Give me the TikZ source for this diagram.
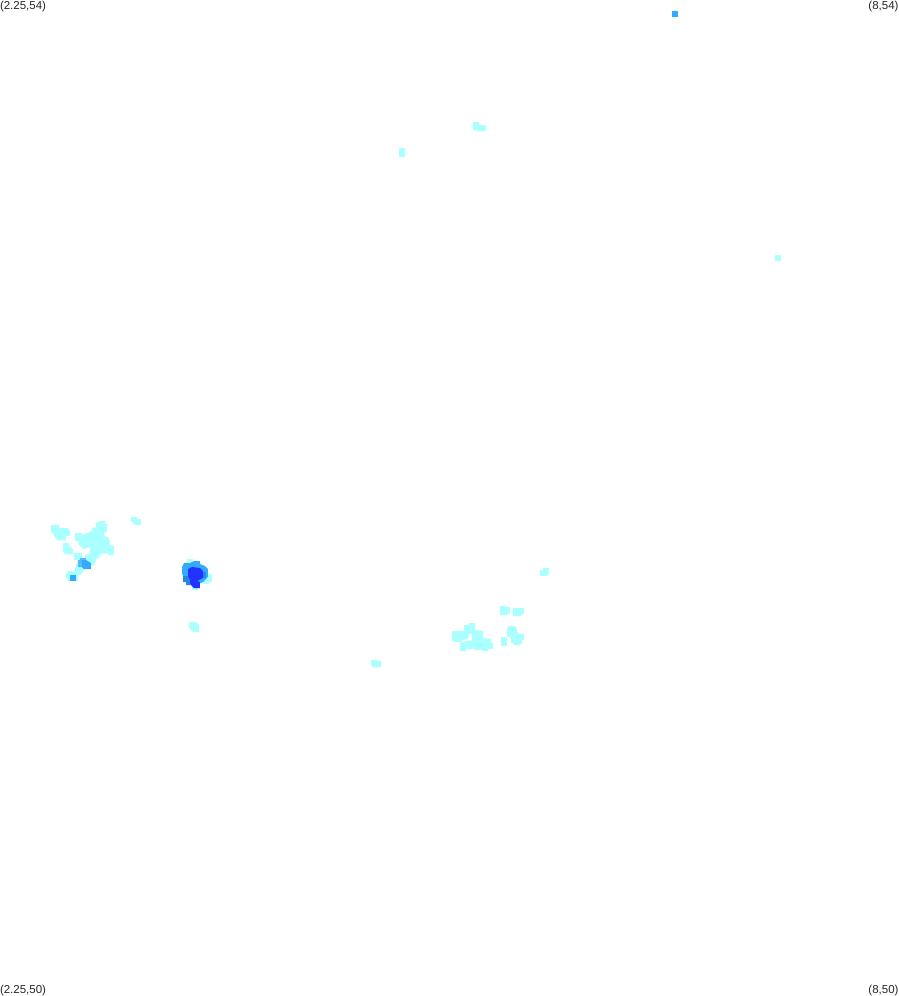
\documentclass[tikz,border=0pt]{standalone}
\usepackage{fontspec}
\setmainfont{Liberation Sans}
\definecolor{cellA}{HTML}{AAFFFF}
\definecolor{cellB}{HTML}{33AAFF}
\definecolor{cellBl}{HTML}{55BBFF}
\definecolor{cellC}{HTML}{2288DD}
\definecolor{cellD}{HTML}{2233FF}
\tikzset{
  cornerlabel/.style={inner sep=0pt,outer sep=0pt,font=\fontsize{11.5}{12}\selectfont,text=black!85},
  zoomA/.style={shift={(40pt,-505pt)},x=0.3333pt,y=-0.3333pt},
  zoomB/.style={shift={(170pt,-550pt)},x=0.3333pt,y=-0.3333pt},
  zoomC/.style={shift={(440pt,-560pt)},x=0.3333pt,y=-0.3333pt},
  zoomD/.style={shift={(390pt,-110pt)},x=0.3333pt,y=-0.3333pt}
}
\begin{document}
\begin{tikzpicture}[x=1pt,y=-1pt]
\useasboundingbox (0,0) rectangle (899,996);
\clip (0,0) rectangle (899,996);
\fill[white] (0,0) rectangle (899,996);
% cluster left
\begin{scope}[zoomA]
\fill[cellA] (33,60)--(57,60)--(57,69)--(84,69)--(90,75)--(90,93)--(78,93)--(78,105)--(51,105)--(45,96)--(39,84)--(33,84)--cycle;
\fill[cellA] (105,84)--(123,84)--(129,90)--(141,84)--(156,78)--(156,68)--(168,68)--(168,54)--(180,48)--(195,48)--(195,57)--(201,57)--(201,81)--(192,81)--(192,93)--(204,96)--(210,108)--(210,120)--(222,123)--(222,150)--(204,150)--(204,144)--(192,144)--(180,150)--(180,156)--(168,162)--(165,180)--(153,180)--(135,165)--(135,150)--(150,147)--(150,115)--(147,128)--(130,132)--(117,120)--(117,108)--(105,108)--cycle;
\fill[cellA] (69,114)--(87,114)--(87,123)--(99,132)--(99,147)--(75,147)--(69,138)--cycle;
\fill[cellA] (102,144)--(126,144)--(126,165)--(102,165)--cycle;
\fill[cellA] (108,177)--(132,177)--(132,198)--(120,210)--(108,210)--(105,195)--cycle;
\fill[cellA] (78,204)--(84,204)--(84,198)--(102,198)--(114,210)--(114,228)--(84,228)--(78,216)--cycle;
\fill[cellA] (273,36)--(291,36)--(291,42)--(303,42)--(303,60)--(282,60)--(279,51)--(273,51)--cycle;
\fill[cellBl] (114,165)--(120,165)--(120,159)--(138,159)--(138,186)--(114,186)--cycle;
\fill[cellB] (126,165)--(138,165)--(153,174)--(153,192)--(132,192)--(126,186)--cycle;
\fill[cellB] (90,210)--(108,210)--(108,228)--(90,228)--cycle;
\end{scope}
% dense cluster
\begin{scope}[zoomB]
\fill[cellA] (51,27)--(69,27)--(69,36)--(51,42)--cycle;
\fill[cellA] (108,72)--(126,72)--(126,93)--(114,102)--(100,102)--(100,90)--cycle;
\fill[cellA] (66,108)--(84,108)--(84,120)--(66,120)--cycle;
\fill[cellB] (36,51)--(42,39)--(60,39)--(72,33)--(90,33)--(90,42)--(105,48)--(114,57)--(114,80)--(100,96)--(90,100)--(60,100)--(39,78)--(36,69)--cycle;
\fill[cellC] (39,78)--(60,78)--(60,105)--(48,105)--(48,96)--(39,96)--cycle;
\fill[cellC] (90,66)--(108,66)--(108,84)--(90,84)--cycle;
\fill[cellD] (54,57)--(66,51)--(90,54)--(99,63)--(99,84)--(81,93)--(90,96)--(90,114)--(72,114)--(60,102)--(60,90)--(54,78)--cycle;
\fill[cellA] (57,216)--(78,216)--(87,225)--(87,246)--(69,246)--(57,234)--cycle;
\end{scope}
% right cluster
\begin{scope}[zoomC]
\fill[cellA] (300,30)--(309,30)--(309,24)--(327,24)--(327,39)--(321,48)--(300,48)--cycle;
\fill[cellA] (180,138)--(198,138)--(198,141)--(210,141)--(210,159)--(198,165)--(180,165)--cycle;
\fill[cellA] (219,144)--(252,144)--(252,159)--(243,168)--(222,168)--(219,165)--cycle;
\fill[cellA] (36,213)--(72,213)--(72,195)--(87,195)--(87,189)--(105,189)--(105,210)--(129,213)--(129,234)--(153,237)--(153,249)--(159,249)--(159,267)--(144,267)--(144,273)--(126,273)--(126,270)--(102,270)--(102,267)--(78,267)--(78,273)--(60,273)--(60,249)--(78,243)--(96,243)--(96,222)--(87,222)--(84,237)--(66,240)--(66,246)--(48,246)--(36,243)--cycle;
\fill[cellA] (207,198)--(225,198)--(231,207)--(231,216)--(237,222)--(252,222)--(252,240)--(246,240)--(246,249)--(240,255)--(222,255)--(219,249)--(213,249)--(213,234)--(201,228)--(201,207)--cycle;
\fill[cellA] (183,231)--(201,231)--(201,258)--(183,258)--cycle;
\end{scope}
% upper cluster
\begin{scope}[zoomD]
\fill[cellA] (249,36)--(267,36)--(267,45)--(288,45)--(288,63)--(261,63)--(261,60)--(249,60)--cycle;
\fill[cellA] (27,114)--(45,114)--(45,141)--(27,141)--cycle;
\end{scope}
% isolated cells
\fill[cellB] (672,11) rectangle (678,17);
\fill[cellA] (775,255) rectangle (781,261);
\fill[cellA] (371,660)--(377,660)--(377,661)--(381,661)--(381,667)--(373,667)--(371,665)--cycle;
% corner labels
\node[cornerlabel,anchor=north west] (tl) at (0,1.5) {(2.25,54)};
\node[cornerlabel,anchor=north east] (tr) at (898.5,1.5) {(8,54)};
\node[cornerlabel,anchor=base west] (bl) at (0,993.5) {(2.25,50)};
\node[cornerlabel,anchor=base east] (br) at (898.5,993.5) {(8,50)};
\end{tikzpicture}
\end{document}
